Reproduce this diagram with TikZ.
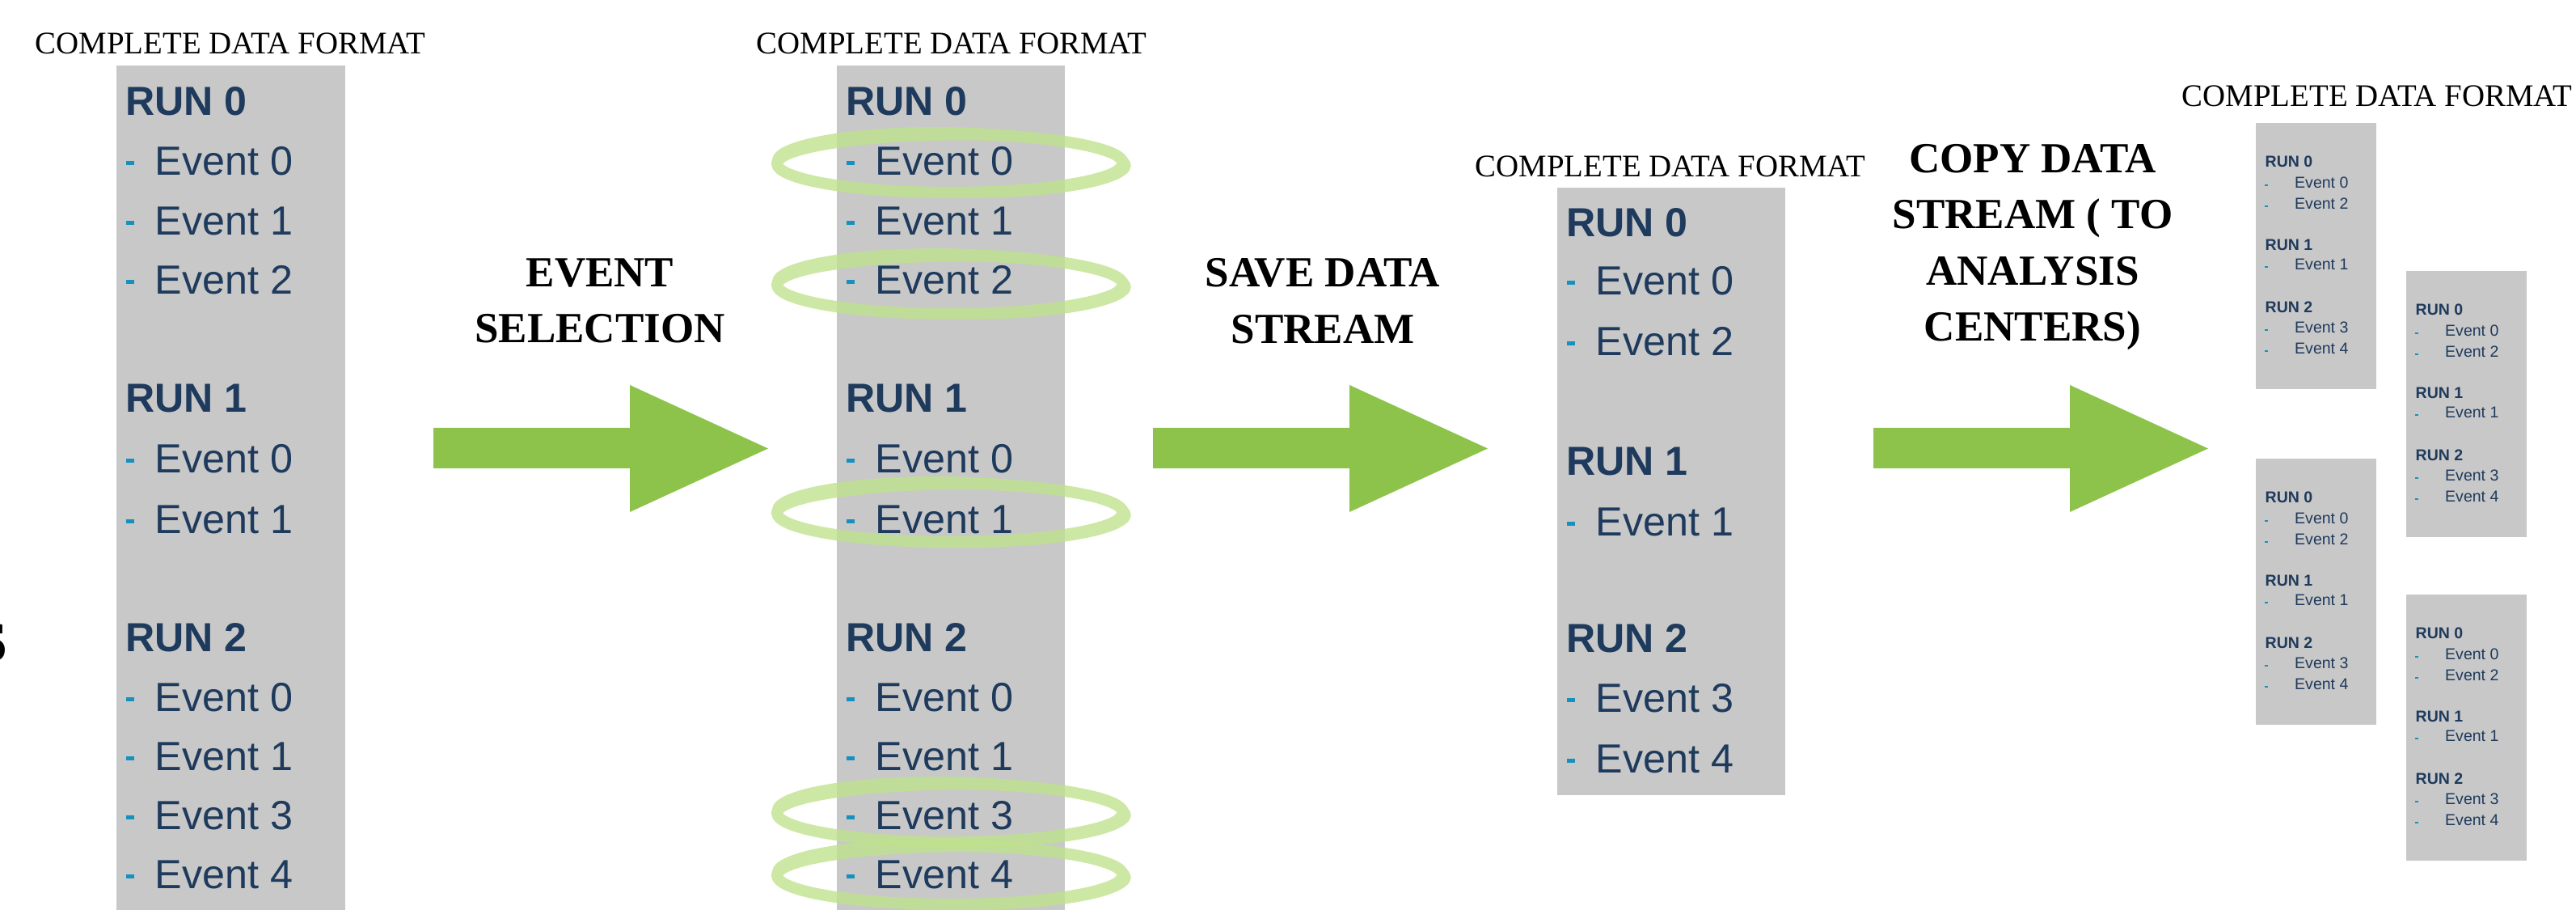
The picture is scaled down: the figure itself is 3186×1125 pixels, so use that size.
\documentclass[tikz,border=0pt]{standalone}
\usepackage{fontspec}
\setmainfont{Liberation Serif}
\newfontfamily\arialf{Liberation Sans}
\definecolor{boxgray}{RGB}{200,200,200}
\definecolor{navy}{RGB}{30,58,92}
\definecolor{tealc}{RGB}{22,145,190}
\definecolor{arrowg}{RGB}{141,195,74}
\definecolor{ellg}{RGB}{191,226,140}
\tikzset{
  titletext/.style={font=\fontsize{11.05pt}{13pt}\selectfont, inner sep=0pt, anchor=base},
  steplabel/.style={font=\fontsize{15.08pt}{18pt}\selectfont\bfseries, inner sep=0pt, anchor=base},
  bigrun/.style={font=\arialf\fontsize{14.25pt}{16pt}\selectfont\bfseries, text=navy, inner sep=0pt, anchor=base west},
  bigev/.style={font=\arialf\fontsize{14.3pt}{16pt}\selectfont, text=navy, inner sep=0pt, anchor=base west},
  smrun/.style={font=\arialf\fontsize{5.55pt}{6.5pt}\selectfont\bfseries, text=navy, inner sep=0pt, anchor=base west},
  smev/.style={font=\arialf\fontsize{5.55pt}{6.5pt}\selectfont, text=navy, inner sep=0pt, anchor=base west},
  databox/.style={fill=boxgray, draw=none},
  blockarrow/.style={fill=arrowg, draw=none},
  selring/.style={draw=ellg},
}
% big box lines: name, box left, text centre y, text
\newcommand\bigrunline[4]{\node[bigrun] (#1) at (#2+10.5,#3+17.8) {#4};}
\newcommand\bigevline[4]{\fill[tealc] (#2+12,#3+0.5) rectangle (#2+22,#3+5.5);
  \node[bigev] (#1) at (#2+47,#3+17.8) {#4};}
% small box lines: name, box left, baseline y, text
\newcommand\smrunline[4]{\node[smrun] (#1) at (#2+11,#3) {#4};}
\newcommand\smevline[4]{\fill[tealc] (#2+11,#3-5) rectangle (#2+14.5,#3-3);
  \node[smev] (#1) at (#2+47.5,#3) {#4};}
\newcommand\smallbox[3]{%
  \fill[databox] (#2,#3) rectangle (#2+149,#3+329);
  \smrunline{#1r0}{#2}{#3+55}{RUN 0}
  \smevline{#1a}{#2}{#3+81}{Event 0}
  \smevline{#1b}{#2}{#3+107}{Event 2}
  \smrunline{#1r1}{#2}{#3+158}{RUN 1}
  \smevline{#1c}{#2}{#3+182}{Event 1}
  \smrunline{#1r2}{#2}{#3+235}{RUN 2}
  \smevline{#1d}{#2}{#3+260}{Event 3}
  \smevline{#1e}{#2}{#3+286}{Event 4}}
\newcommand\fullbox[2]{%
  \bigrunline{#1r0}{#2}{124.5}{RUN 0}
  \bigevline{#1a}{#2}{199}{Event 0}
  \bigevline{#1b}{#2}{273}{Event 1}
  \bigevline{#1c}{#2}{345.5}{Event 2}
  \bigrunline{#1r1}{#2}{492}{RUN 1}
  \bigevline{#1d}{#2}{567}{Event 0}
  \bigevline{#1e}{#2}{642}{Event 1}
  \bigrunline{#1r2}{#2}{788}{RUN 2}
  \bigevline{#1f}{#2}{862}{Event 0}
  \bigevline{#1g}{#2}{935}{Event 1}
  \bigevline{#1h}{#2}{1008}{Event 3}
  \bigevline{#1i}{#2}{1081}{Event 4}}
% hand-drawn selection ring: centre x, centre y
\newcommand\selell[2]{%
  \begin{scope}[transparency group, opacity=.78]
  \draw[selring, line width=4.0pt] (#1,#2) ellipse [x radius=214, y radius=36];
  \draw[selring, line width=1.0pt, rotate around={-1:(#1,#2)}] (#1+2,#2-1) ellipse [x radius=220, y radius=42];
  \draw[selring, line width=0.8pt, rotate around={0.8:(#1,#2)}] (#1-1,#2+1) ellipse [x radius=209, y radius=31];
  \end{scope}}
\newcommand\bigarrow[1]{\fill[blockarrow] (#1,529) -- (#1+243,529) -- (#1+243,476) -- (#1+414,554.5) -- (#1+243,633) -- (#1+243,579) -- (#1,579) -- cycle;}
\begin{document}
\begin{tikzpicture}[x=0.01cm,y=-0.01cm]
\useasboundingbox (0,0) rectangle (3186,1125);
% partial letter at the left edge
\node[font=\fontsize{19.9pt}{22pt}\selectfont\bfseries, inner sep=0pt, anchor=base east] (cutS) at (10,818) {S};
% titles
\node[titletext] (t1) at (285,67) {COMPLETE DATA FORMAT};
\node[titletext] (t2) at (1177,67) {COMPLETE DATA FORMAT};
\node[titletext] (t3) at (2066,219) {COMPLETE DATA FORMAT};
\node[titletext] (t4) at (2940,132) {COMPLETE DATA FORMAT};
% box 1
\fill[databox] (144,81) rectangle (427,1135);
\fullbox{A}{144}
% box 2
\fill[databox] (1035,81) rectangle (1317,1135);
\fullbox{B}{1035}
\selell{1175}{202}
\selell{1175}{352}
\selell{1175}{634}
\selell{1175}{1005}
\selell{1175}{1082}
% box 3
\fill[databox] (1926,232) rectangle (2208,983);
\bigrunline{Cr0}{1926}{275}{RUN 0}
\bigevline{Ca}{1926}{347}{Event 0}
\bigevline{Cb}{1926}{422}{Event 2}
\bigrunline{Cr1}{1926}{570}{RUN 1}
\bigevline{Cc}{1926}{645}{Event 1}
\bigrunline{Cr2}{1926}{789}{RUN 2}
\bigevline{Cd}{1926}{863}{Event 3}
\bigevline{Ce}{1926}{938}{Event 4}
% small boxes
\smallbox{SA}{2790}{152}
\smallbox{SB}{2976}{335}
\smallbox{SC}{2790}{567}
\smallbox{SD}{2976}{735}
% arrows
\bigarrow{536}
\bigarrow{1426}
\bigarrow{2317}
% step labels
\node[steplabel] (ev1) at (742,355) {EVENT};
\node[steplabel] (ev2) at (742,424) {SELECTION};
\node[steplabel] (sv1) at (1636,355) {SAVE DATA};
\node[steplabel] (sv2) at (1636,425) {STREAM};
\node[steplabel] (cp1) at (2514,214) {COPY DATA};
\node[steplabel] (cp2) at (2514,283) {STREAM ( TO};
\node[steplabel] (cp3) at (2514,353) {ANALYSIS};
\node[steplabel] (cp4) at (2514,422) {CENTERS)};
\end{tikzpicture}
\end{document}
